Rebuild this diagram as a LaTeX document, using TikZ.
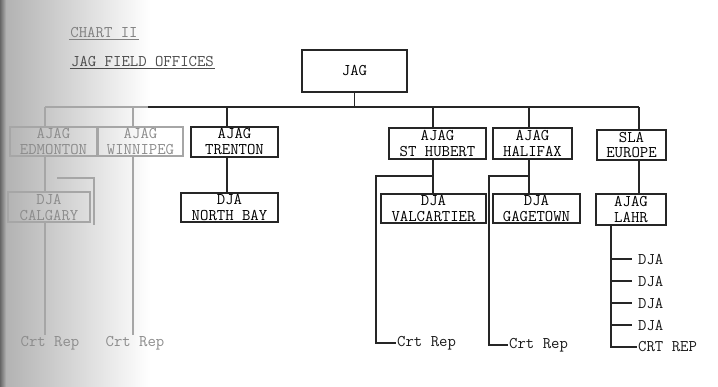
\documentclass[tikz,border=0pt]{standalone}
\usepackage{tikz}
\newcommand{\chartfont}{\fontsize{16.3}{16}\selectfont\ttfamily}
\tikzset{office/.style={draw=black!85, line width=1.1pt, inner sep=0pt, align=center, font=\chartfont},
  faded/.style={draw=black!35, text=black!45, line width=1.8pt},
  link/.style={draw=black!85, line width=1.1pt},
  leaf/.style={inner sep=1pt, anchor=west, font=\chartfont, text=black!90}}

\begin{document}
\begin{tikzpicture}[x=1pt, y=-1pt]
\useasboundingbox (0,0) rectangle (718,386);
\shade[left color=black!30, right color=white] (6,0) rectangle (150,386);
\shade[left color=black!60, right color=black!30] (0,0) rectangle (6,386);
\node[font=\chartfont, text=black!50, inner sep=1pt] (chart) at (104,33) {CHART II};
\draw[black!50, line width=1pt] (chart.south west) -- (chart.south east);
\node[font=\chartfont, text=black!70, inner sep=1pt] (field) at (142.5,62) {JAG FIELD OFFICES};
\draw[black!70, line width=1pt] (field.south west) -- (field.south east);
\node[office, minimum width=105pt, minimum height=42pt] (jag) at (354.5,71) {JAG};
\node[office, faded, minimum width=87pt, minimum height=29pt] (edm) at (53.5,141.5) {AJAG\\EDMONTON};
\node[office, faded, minimum width=85pt, minimum height=29pt] (win) at (140.5,141.5) {AJAG\\WINNIPEG};
\node[office, minimum width=87pt, minimum height=30pt] (tren) at (234.5,142) {AJAG\\TRENTON};
\node[office, minimum width=97pt, minimum height=31pt] (sthub) at (437.5,143.5) {AJAG\\ST HUBERT};
\node[office, minimum width=79pt, minimum height=31pt] (hal) at (532.5,143.5) {AJAG\\HALIFAX};
\node[office, minimum width=69pt, minimum height=30pt] (eur) at (631.5,145) {SLA\\EUROPE};
\node[office, faded, minimum width=82pt, minimum height=30pt] (cal) at (49,207) {DJA\\CALGARY};
\node[office, minimum width=97pt, minimum height=29pt] (nbay) at (229.5,207.5) {DJA\\NORTH BAY};
\node[office, minimum width=105pt, minimum height=29pt] (valc) at (433.5,208.5) {DJA\\VALCARTIER};
\node[office, minimum width=87pt, minimum height=29pt] (gage) at (536.5,208.5) {DJA\\GAGETOWN};
\node[office, minimum width=70pt, minimum height=31pt] (lahr) at (631,209.5) {AJAG\\LAHR};
\node[leaf, anchor=center, text=black!45] (crte) at (50,343) {Crt Rep};
\node[leaf, anchor=center, text=black!45] (crtw) at (135,343) {Crt Rep};
\node[leaf] (crts) at (396,343) {Crt Rep};
\node[leaf] (crth) at (508,345) {Crt Rep};
\node[leaf] (dja1) at (637,259) {DJA};
\node[leaf] (dja2) at (637,281) {DJA};
\node[leaf] (dja3) at (637,303) {DJA};
\node[leaf] (dja4) at (637,325) {DJA};
\node[leaf] (crtr) at (637,347) {CRT REP};
\coordinate (s1) at (45,107);
\coordinate (s2) at (133,107);
\coordinate (s3) at (227,107);
\coordinate (s4) at (433,107);
\coordinate (s5) at (529,107);
\coordinate (s6) at (639,107);
\coordinate (b4) at (433,176);
\coordinate (b5) at (529,176);
\coordinate (l) at (611,0);
\draw[faded] (s1) -- (148,107);
\draw[link] (148,107) -- (s6);
\draw[link] (jag.south) -- (jag.south |- s1);
\draw[faded] (s1) -- (s1 |- edm.north);
\draw[faded] (s1 |- edm.south) -- (s1 |- cal.north);
\draw[faded] (s1 |- cal.south) -- (s1 |- crte.north);
\draw[faded] ([xshift=8pt, yshift=13pt]cal.north) -| ([xshift=3pt, yshift=-2pt]cal.south east);
\draw[faded] (s2) -- (s2 |- win.north);
\draw[faded] (s2 |- win.south) -- (s2 |- crtw.north);
\draw[link] (s3) -- (s3 |- tren.north);
\draw[link] (s3 |- tren.south) -- (s3 |- nbay.north);
\draw[link] (s4) -- (s4 |- sthub.north);
\draw[link] (s4 |- sthub.south) -- (s4 |- valc.north);
\draw[link] (b4) -- ++(-57,0) |- (crts.west);
\draw[link] (s5) -- (s5 |- hal.north);
\draw[link] (s5 |- hal.south) -- (s5 |- gage.north);
\draw[link] (b5) -- ++(-40,0) |- (crth.west);
\draw[link] (s6) -- (s6 |- eur.north);
\draw[link] (s6 |- eur.south) -- (s6 |- lahr.north);
\draw[link] (l |- lahr.south) |- (crtr.west);
\foreach \n in {1,...,4} \draw[link] (l |- dja\n.west) -- ++(21,0);
\end{tikzpicture}
\end{document}
